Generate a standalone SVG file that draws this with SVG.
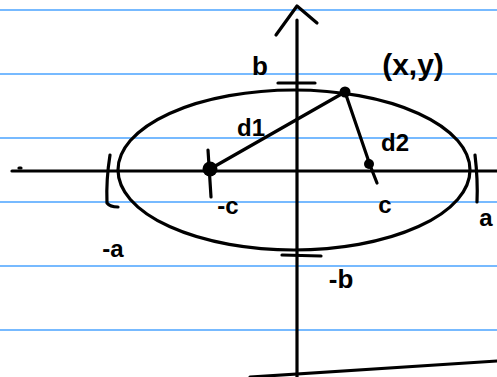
<svg xmlns="http://www.w3.org/2000/svg" width="497" height="377" viewBox="0 0 497 377">
<style>
.rule{stroke:#4aa3ff;stroke-width:1.5}
.ink{stroke:#000;stroke-width:3.2;fill:none;stroke-linecap:round;stroke-linejoin:round}
.lbl{font-family:"Liberation Sans",Arial,sans-serif;fill:#000;text-anchor:middle;font-weight:bold}
</style>
<rect width="497" height="377" fill="#fff"/>
<g id="paper">
<line class="rule" x1="0" y1="10" x2="497" y2="10"/>
<line class="rule" x1="0" y1="74" x2="497" y2="74"/>
<line class="rule" x1="0" y1="138" x2="497" y2="138"/>
<line class="rule" x1="0" y1="202" x2="497" y2="202"/>
<line class="rule" x1="0" y1="266" x2="497" y2="266"/>
<line class="rule" x1="0" y1="330" x2="497" y2="330"/>
</g>
<g id="axes">
<line class="ink" x1="12" y1="171" x2="497" y2="171"/>
<line class="ink" x1="19" y1="168" x2="21" y2="168"/>
<line class="ink" x1="297" y1="20" x2="297" y2="377"/>
<polyline class="ink" points="276,35 297,6 317,23"/>
<line class="ink" x1="250" y1="377" x2="497" y2="361"/>
</g>
<g id="ellipse">
<ellipse class="ink" cx="294" cy="170" rx="176" ry="80" stroke-width="3.6"/>
</g>
<g id="ticks">
<line class="ink" x1="278" y1="83" x2="315" y2="83"/>
<line class="ink" x1="282" y1="255" x2="321" y2="256"/>
<path class="ink" d="M110,155 Q106,180 107,203 Q110,207 118,207"/>
<path class="ink" d="M475,155 Q478,180 477,202"/>
<line class="ink" x1="208" y1="150" x2="211" y2="197"/>
<line class="ink" x1="368" y1="160" x2="377" y2="183"/>
</g>
<g id="connectors">
<line class="ink" x1="210" y1="169" x2="345" y2="92"/>
<line class="ink" x1="345" y1="92" x2="370" y2="165"/>
</g>
<g id="points">
<circle cx="210" cy="169" r="7.5" fill="#000"/>
<circle cx="369" cy="164" r="5" fill="#000"/>
<circle cx="345" cy="92" r="5.5" fill="#000"/>
</g>
<g id="labels">
<text class="lbl" x="260" y="75" font-size="26">b</text>
<text class="lbl" x="413" y="75" font-size="30">(x,y)</text>
<text class="lbl" x="251" y="136" font-size="24">d1</text>
<text class="lbl" x="395" y="151" font-size="24">d2</text>
<text class="lbl" x="228" y="214" font-size="24">-c</text>
<text class="lbl" x="385" y="213" font-size="24">c</text>
<text class="lbl" x="486" y="226" font-size="24">a</text>
<text class="lbl" x="113" y="257" font-size="24">-a</text>
<text class="lbl" x="341" y="288" font-size="26">-b</text>
</g>
</svg>
